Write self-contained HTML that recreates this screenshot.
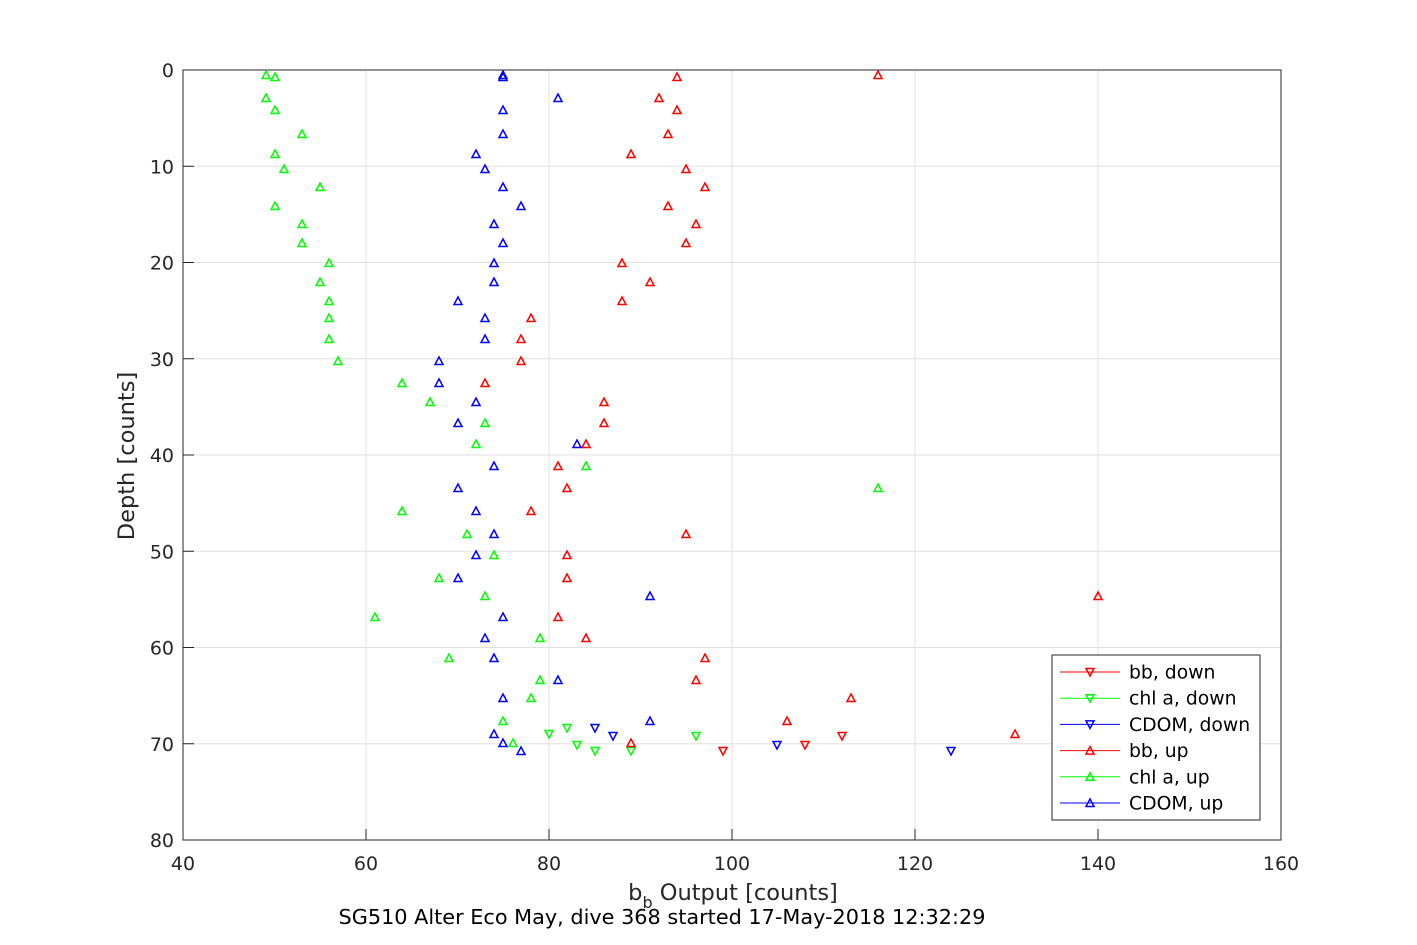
<!DOCTYPE html>
<html><head><meta charset="utf-8"><style>
html,body{margin:0;padding:0;background:#fff;}
svg{display:block;font-family:"DejaVu Sans","Liberation Sans",sans-serif;}
</style></head><body>
<svg id="s" width="1417" height="945" xmlns="http://www.w3.org/2000/svg">
<rect width="1417" height="945" fill="#fff"/>
<g id="grid" stroke="#e0e0e0" stroke-width="1"></g>
<rect x="183" y="70" width="1098" height="770" fill="none" stroke="#262626" stroke-width="1"/>
<g id="ticks" font-size="19" fill="#262626"></g>
<g id="pts" fill="none" stroke-width="1.5"></g>
<text x="733" y="900" font-size="22.5" text-anchor="middle" fill="#262626">b<tspan font-size="16" dy="8">b</tspan><tspan dy="-8"> Output [counts]</tspan></text>
<text x="662" y="924" font-size="20.8" text-anchor="middle" fill="#000">SG510 Alter Eco May, dive 368 started 17-May-2018 12:32:29</text>
<text transform="translate(134,456) rotate(-90)" font-size="22.5" text-anchor="middle" fill="#262626">Depth [counts]</text>
<g id="leg">
<rect x="1052" y="655" width="208" height="165" fill="#fff" stroke="#262626" stroke-width="1"/>
</g>
</svg>
<script>
var ns="http://www.w3.org/2000/svg";
function el(p,t,a,txt){var e=document.createElementNS(ns,t);for(var k in a)e.setAttribute(k,a[k]);if(txt!==undefined)e.textContent=txt;document.getElementById(p).appendChild(e);return e;}
for(var i=0;i<=6;i++){var x=183+i*183;el("grid","line",{x1:x,y1:70,x2:x,y2:840});
 el("ticks","text",{x:x,y:870,"text-anchor":"middle"},40+20*i);
 el("ticks","line",{x1:x,y1:840,x2:x,y2:829,stroke:"#262626"});}
for(var j=0;j<=8;j++){var y=70+j*96.25;el("grid","line",{x1:183,y1:y,x2:1281,y2:y});
 el("ticks","text",{x:174,y:y+7,"text-anchor":"end"},j*10);
 el("ticks","line",{x1:183,y1:y,x2:194,y2:y,stroke:"#262626"});}
function tri(p,x,y,c,up){var d=up?"M"+(x-4)+","+(y+3.5)+"L"+(x+4)+","+(y+3.5)+"L"+x+","+(y-4)+"Z":"M"+(x-4)+","+(y-3.5)+"L"+(x+4)+","+(y-3.5)+"L"+x+","+(y+4)+"Z";el(p,"path",{d:d,stroke:c,fill:"none","stroke-width":1.5});}
var G="#00ff00",B="#0000ff",R="#ff0000";
var gu=[[266,75],[275,77],[266,98],[275,110],[302,134],[275,154],[284,169],[320,187],[275,206],[302,224],[302,243],[329,263],[320,282],[329,301],[329,318],[329,339],[338,361],[402,383],[430,402],[485,423],[476,444],[586,466],[878,488],[402,511],[467,534],[494,555],[439,578],[485,596],[375,617],[540,638],[449,658],[540,680],[531,698],[503,721],[513,743]];
var gd=[[567,728],[549,734],[577,745],[595,751],[631,751],[696,736]];
var bu=[[503,75],[503,77],[558,98],[503,110],[503,134],[476,154],[485,169],[503,187],[521,206],[494,224],[503,243],[494,263],[494,282],[458,301],[485,318],[485,339],[439,361],[439,383],[476,402],[458,423],[577,444],[494,466],[458,488],[476,511],[494,534],[476,555],[458,578],[650,596],[503,617],[485,638],[494,658],[558,680],[503,698],[650,721],[494,734],[503,743],[521,751]];
var bd=[[595,728],[613,736],[777,745],[951,751]];
var ru=[[878,75],[677,77],[659,98],[677,110],[668,134],[631,154],[686,169],[705,187],[668,206],[696,224],[686,243],[622,263],[650,282],[622,301],[531,318],[521,339],[521,361],[485,383],[604,402],[604,423],[586,444],[558,466],[567,488],[531,511],[686,534],[567,555],[567,578],[1098,596],[558,617],[586,638],[705,658],[696,680],[851,698],[787,721],[1015,734],[631,743]];
var rd=[[842,736],[805,745],[723,751]];
rd.forEach(function(p){tri("pts",p[0],p[1],R,false)});
gd.forEach(function(p){tri("pts",p[0],p[1],G,false)});
bd.forEach(function(p){tri("pts",p[0],p[1],B,false)});
ru.forEach(function(p){tri("pts",p[0],p[1],R,true)});
gu.forEach(function(p){tri("pts",p[0],p[1],G,true)});
bu.forEach(function(p){tri("pts",p[0],p[1],B,true)});
var L=[["bb, down",R,false],["chl a, down",G,false],["CDOM, down",B,false],["bb, up",R,true],["chl a, up",G,true],["CDOM, up",B,true]];
L.forEach(function(l,i){var y=672+i*26.2;el("leg","line",{x1:1060,y1:y,x2:1120,y2:y,stroke:l[1],"stroke-width":1});tri("leg",1090,y,l[1],l[2]);
 el("leg","text",{x:1129,y:y+6.5,"font-size":18.8,fill:"#000"},l[0]);});
</script>
</body></html>
